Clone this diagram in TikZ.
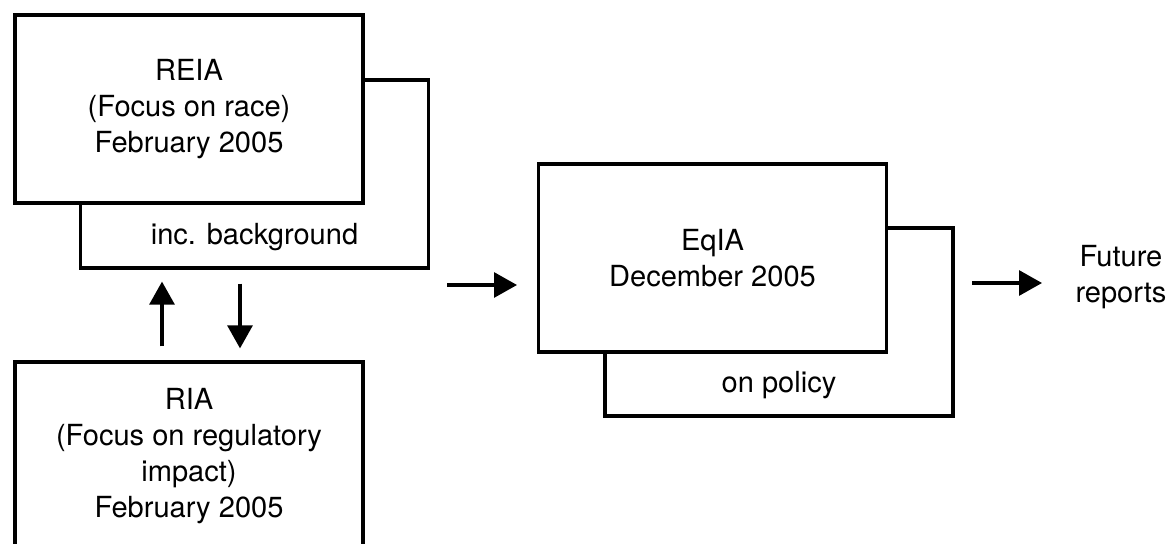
\documentclass[tikz,border=0pt]{standalone}
\usepackage{fontspec}
\setmainfont{TeX Gyre Heros}
\usetikzlibrary{arrows.meta, positioning, calc}

\begin{document}
\begin{tikzpicture}[
  box/.style={
    rectangle, draw=black, fill=white, line width=2.8pt,
    minimum width=10.44cm, minimum height=5.64cm,
    inner sep=0pt, align=center,
    font=\fontsize{24.8}{30.7}\selectfont
  },
  lbl/.style={font=\fontsize{24.8}{30.7}\selectfont, align=center},
  arr/.style={-{Triangle[length=0.69cm, width=0.75cm]}, line width=2.6pt},
  updown/.style={arr, shorten <=0.42cm, shorten >=0.36cm}
]
  \useasboundingbox (0,0) rectangle (35.1,-16.32);

  % race assessment, background sheet first
  \node[box] (REIAback) at (7.635,-5.22) {};
  \node[box] (REIA)     at (5.67,-3.27)
    {REIA\\(Focus on race)\\February 2005};
  \node[lbl] (incbg) at ($(REIAback.south)+(0,0.98)$) {inc. background};

  \node[box] (RIA) at (5.67,-13.68)
    {RIA\\(Focus on regulatory\\impact)\\February 2005};

  % equality assessment
  \node[box] (EqIAback) at (23.37,-9.66) {};
  \node[box] (EqIA)     at (21.375,-7.74) {EqIA\\December 2005};
  \node[lbl] (policy) at ($(EqIAback.south)+(0,0.98)$) {on policy};

  \node[lbl] (future) at (33.63,-8.31) {Future\\reports};

  \coordinate (upx)   at (4.86,0);
  \coordinate (downx) at (7.2,0);
  \coordinate (midA)  at (13.41,-8.55);
  \coordinate (midB)  at (15.51,-8.55);
  \coordinate (outA)  at (29.16,-8.49);
  \coordinate (outB)  at (31.26,-8.49);

  \draw[updown] (RIA.north -| upx) -- (REIAback.south -| upx);
  \draw[updown] (REIAback.south -| downx) -- (RIA.north -| downx);
  \draw[arr] (midA) -- (midB);
  \draw[arr] (outA) -- (outB);
\end{tikzpicture}
\end{document}
